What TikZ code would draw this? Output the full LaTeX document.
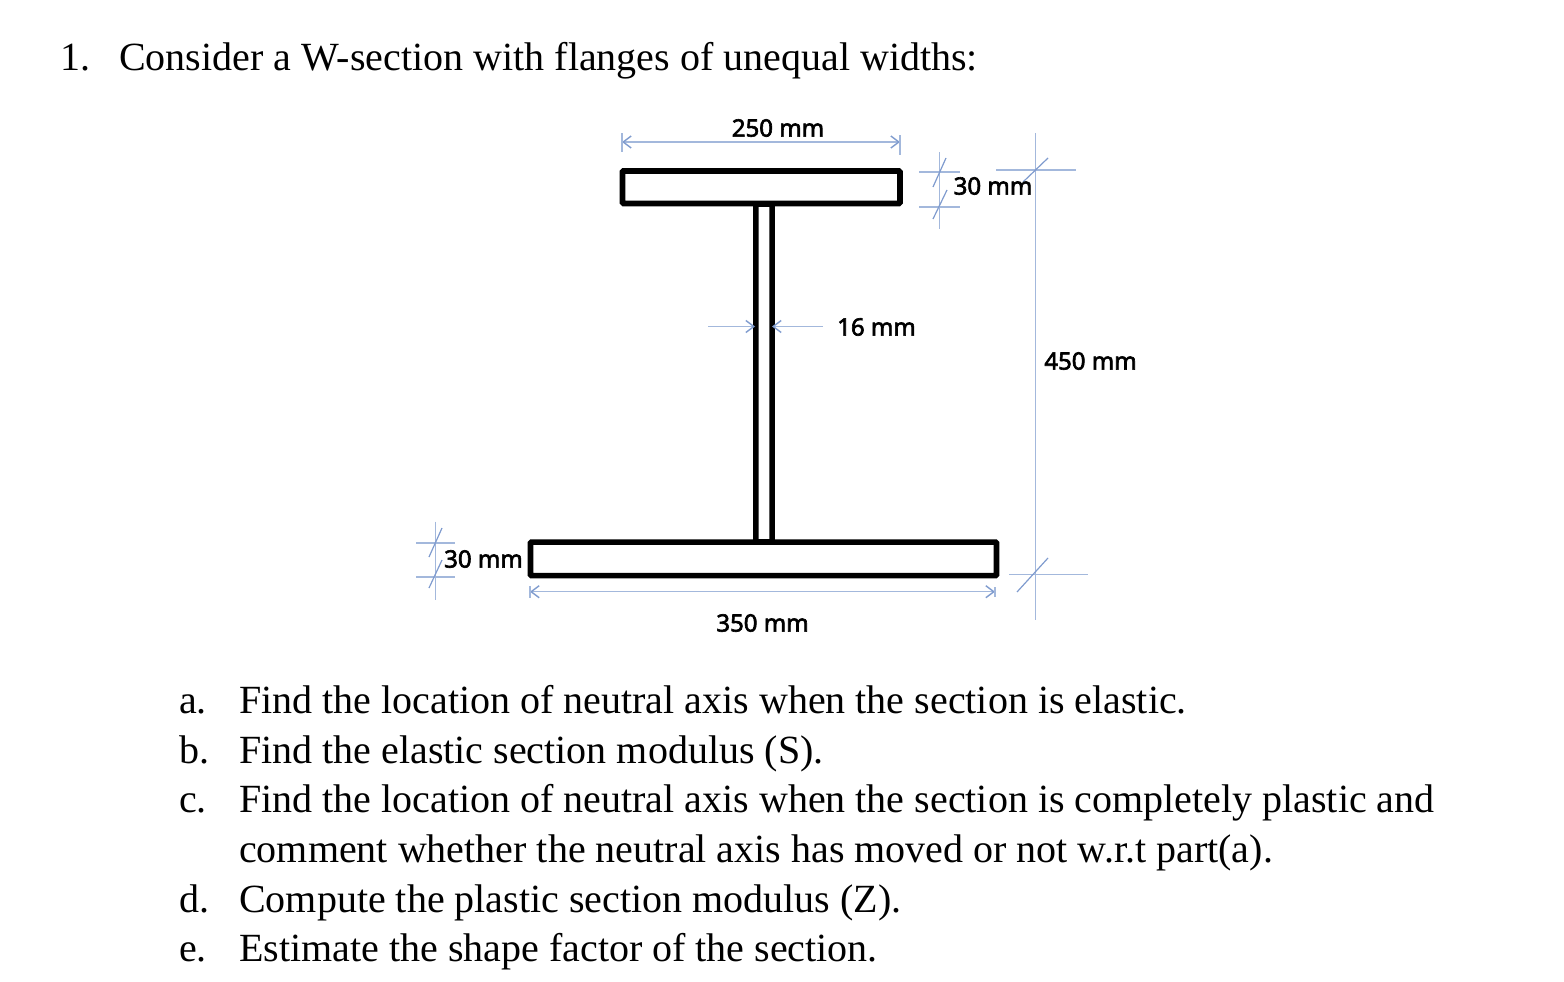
\documentclass[tikz,border=0pt]{standalone}
\usepackage{fontspec}
\setmainfont{Liberation Serif}
\newfontfamily\dimfont[FakeBold=2.6]{Noto Sans}
\usetikzlibrary{arrows.meta}
\definecolor{dimblue}{HTML}{A3B8DC}
\definecolor{tipblue}{HTML}{7F9BCE}
\tikzset{
  txt/.style={anchor=base west,inner sep=0pt,font=\fontsize{40}{48}\selectfont,text=black},
  dimlabel/.style={inner sep=0pt,font=\dimfont\fontsize{24}{28}\selectfont,text=black},
  steel/.style={draw=black,line width=5.6pt,rounded corners=1pt,fill=white,inner sep=0pt,minimum height=0pt},
  dimline/.style={draw=dimblue,line width=1.5pt},
  slash/.style={draw=tipblue,line width=1.2pt},
  dimarrow/.style={dimline,{Straight Barb[length=8pt,width=12pt,color=tipblue,line width=1.4pt]}-{Straight Barb[length=8pt,width=12pt,color=tipblue,line width=1.4pt]}},
  onearrow/.style={dimline,-{Straight Barb[length=8pt,width=12pt,color=tipblue,line width=1.4pt]}}
}
\begin{document}
\begin{tikzpicture}[x=1pt,y=-1pt]
\useasboundingbox (0,0) rectangle (1564,982);
% steel section
\node[steel,minimum width=16.3pt,minimum height=338pt] (web) at (764,373) {};
\node[steel,minimum width=277.5pt,minimum height=32.5pt] (topf) at (761.2,187.2) {};
\node[steel,minimum width=466pt,minimum height=33.5pt] (botf) at (763.5,558.8) {};
% coordinates
\coordinate (a250l) at (622,142); \coordinate (a250r) at (900,142);
\coordinate (t250la) at (622,133); \coordinate (t250lb) at (622,152);
\coordinate (t250ra) at (900,135); \coordinate (t250rb) at (900,155);
\draw[dimarrow] (a250l) -- (a250r);
\draw[dimline,line width=1.2pt] (t250la) -- (t250lb);
\draw[dimline,line width=1.2pt] (t250ra) -- (t250rb);
\coordinate (a350l) at (530,591.7); \coordinate (a350r) at (995,591.7);
\coordinate (t350la) at (530,586); \coordinate (t350lb) at (530,598);
\coordinate (t350ra) at (995,587); \coordinate (t350rb) at (995,597);
\draw[dimarrow] (a350l) -- (a350r);
\draw[dimline,line width=1.2pt] (t350la) -- (t350lb);
\draw[dimline,line width=1.2pt] (t350ra) -- (t350rb);
\coordinate (w1a) at (708,326.5); \coordinate (w1b) at (755,326.5);
\coordinate (w2a) at (823,326.5); \coordinate (w2b) at (772,326.5);
\draw[onearrow] (w1a) -- (w1b);
\draw[onearrow] (w2a) -- (w2b);
% 30 mm right
\coordinate (r30a) at (939.5,152); \coordinate (r30b) at (939.5,229);
\coordinate (r30c) at (919,172); \coordinate (r30d) at (960,172);
\coordinate (r30e) at (919,207); \coordinate (r30f) at (960,207);
\coordinate (r30g) at (946,158); \coordinate (r30h) at (933,187);
\coordinate (r30i) at (947,190); \coordinate (r30j) at (933,219);
\draw[dimline] (r30a) -- (r30b);
\draw[dimline] (r30c) -- (r30d);
\draw[dimline] (r30e) -- (r30f);
\draw[slash] (r30g) -- (r30h);
\draw[slash] (r30i) -- (r30j);
% 450 mm
\coordinate (v450a) at (1035.7,133); \coordinate (v450b) at (1035.7,620);
\coordinate (h450a) at (996,170); \coordinate (h450b) at (1076,170);
\coordinate (h450c) at (1009,574.5); \coordinate (h450d) at (1088,574.5);
\coordinate (s450a) at (1048,158); \coordinate (s450b) at (1023,182);
\coordinate (s450c) at (1048,558); \coordinate (s450d) at (1017,592);
\draw[dimline] (v450a) -- (v450b);
\draw[dimline] (h450a) -- (h450b);
\draw[dimline] (h450c) -- (h450d);
\draw[slash] (s450a) -- (s450b);
\draw[slash] (s450c) -- (s450d);
% 30 mm left
\coordinate (l30a) at (435.7,521.7); \coordinate (l30b) at (435.7,600);
\coordinate (l30c) at (416,543); \coordinate (l30d) at (455,543);
\coordinate (l30e) at (416,577); \coordinate (l30f) at (455,577);
\coordinate (l30g) at (442,528); \coordinate (l30h) at (429,557);
\coordinate (l30i) at (442,560); \coordinate (l30j) at (429,588);
\draw[dimline] (l30a) -- (l30b);
\draw[dimline] (l30c) -- (l30d);
\draw[dimline] (l30e) -- (l30f);
\draw[slash] (l30g) -- (l30h);
\draw[slash] (l30i) -- (l30j);
% dimension labels
\node[dimlabel] (d250) at (778,128) {250 mm};
\node[dimlabel] (d30r) at (993,186) {30 mm};
\node[dimlabel] (d16) at (876.5,327) {16 mm};
\node[dimlabel] (d450) at (1090.5,361) {450 mm};
\node[dimlabel] (d30l) at (483.5,559) {30 mm};
\node[dimlabel] (d350) at (762.5,623) {350 mm};
% text
\node[txt] (n1) at (60.5,70.7) {1.};
\node[txt] (h1) at (119,70.7) {Consider a W-section with flanges of unequal widths:};
\node[txt] (la) at (179,713) {a.};
\node[txt] (ta) at (239,713) {Find the location of neutral axis when the section is elastic.};
\node[txt] (lb) at (179,763) {b.};
\node[txt] (tb) at (239,763) {Find the elastic section modulus (S).};
\node[txt] (lc) at (179,812) {c.};
\node[txt] (tc) at (239,812) {Find the location of neutral axis when the section is completely plastic and};
\node[txt] (tc2) at (239,862) {comment whether the neutral axis has moved or not w.r.t part(a).};
\node[txt] (ld) at (179,912) {d.};
\node[txt] (td) at (239,912) {Compute the plastic section modulus (Z).};
\node[txt] (le) at (179,961) {e.};
\node[txt] (te) at (239,961) {Estimate the shape factor of the section.};
\end{tikzpicture}
\end{document}
